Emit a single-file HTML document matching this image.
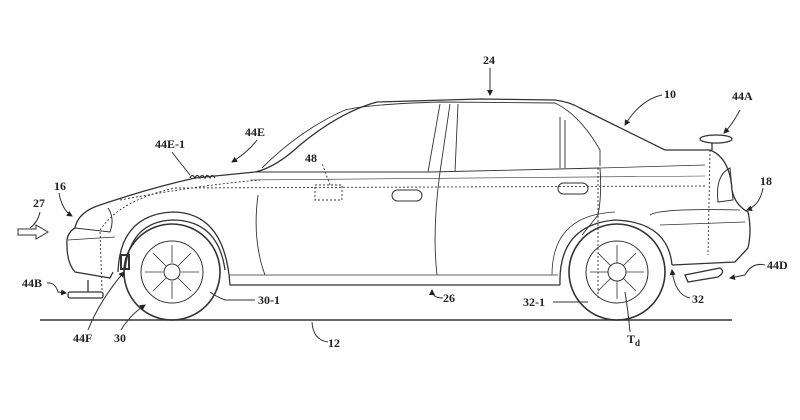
<!DOCTYPE html>
<html><head><meta charset="utf-8"><style>
html,body{margin:0;padding:0;background:#fff;}
svg{display:block}
text{font-family:"Liberation Serif",serif;font-weight:bold;font-size:12px;fill:#222}
</style></head><body>
<svg width="800" height="420" viewBox="0 0 800 420" xmlns="http://www.w3.org/2000/svg">
<defs><marker id="a" markerWidth="6" markerHeight="6" refX="5" refY="3" orient="auto"><path d="M0,0 L6,3 L0,6 z" fill="#222"/></marker></defs>
<g fill="none" stroke="#333" stroke-width="1.3">
<!-- ground -->
<line x1="40" y1="320" x2="732" y2="320" stroke-width="1.5"/>
<!-- main outline -->
<path d="M113,272 L110,278 L75,272 Q66,262 67,240 Q68,232 75,228 Q78,212 100,205 Q150,188 195,178 L255,172 Q275,168 300,145 Q340,112 377,102 L480,99 L555,100 Q570,102 580,108 L665,150 L710,150 Q730,158 732,190 Q735,205 748,212 Q752,230 748,248 L735,262 L672,265"/>
<!-- front wheel arch -->
<path d="M118,272 Q120,215 172,212 Q225,212 230,285 L560,285"/>
<path d="M125,270 Q130,222 172,220 Q218,220 225,270"/>
<!-- rear arch -->
<path d="M560,285 Q558,225 615,220 Q668,222 672,265"/>
<path d="M552,275 Q552,215 615,212" stroke-width="0.8"/>
<line x1="230" y1="275" x2="558" y2="275" stroke-width="0.8"/>
<!-- windshield inner, windows -->
<path d="M262,168 Q300,130 345,110 Q370,104 440,102 L555,103 Q580,115 600,150 L600,166" stroke-width="0.9"/>
<path d="M255,172 L430,172 L600,168" stroke-width="0.9"/>
<path d="M600,168 L705,165" stroke-width="0.8"/>
<line x1="440" y1="104" x2="428" y2="172" stroke-width="0.9"/>
<line x1="450" y1="104" x2="440" y2="172" stroke-width="0.9"/>
<line x1="458" y1="104" x2="455" y2="172" stroke-width="0.9"/>
<line x1="560" y1="117" x2="560" y2="168" stroke-width="0.9"/>
<line x1="565" y1="120" x2="565" y2="168" stroke-width="0.9"/>
<!-- door lines -->
<path d="M258,195 Q252,240 265,275" stroke-width="0.9"/>
<path d="M440,172 Q432,230 437,275" stroke-width="0.9"/>
<path d="M600,168 Q602,195 598,215 Q590,225 582,235" stroke-width="0.9"/>
<path d="M250,180 L705,176" stroke-width="0.6"/>
<!-- handles -->
<rect x="392" y="190" width="30" height="11" rx="5.5" stroke-width="1"/>
<rect x="558" y="183" width="30" height="11" rx="5.5" stroke-width="1"/>
<!-- headlight / front -->
<path d="M75,228 L110,232 Q115,218 108,208" stroke-width="1"/>
<path d="M68,240 L115,237" stroke-width="0.8"/>
<!-- tail light -->
<path d="M718,202 Q715,175 730,168 L733,200 z" stroke-width="1"/>
<path d="M650,215 Q660,208 740,210" stroke-width="0.8"/>
<path d="M660,225 L745,222" stroke-width="0.7"/>
<!-- dotted lines -->
<g stroke-dasharray="2,2" stroke-width="0.9">
<path d="M100,230 Q120,200 175,188 L705,186"/>
<path d="M100,232 L102,290"/>
<path d="M120,200 Q200,185 260,180"/>
<rect x="315" y="185" width="27" height="15"/>
<path d="M330,185 L322,163"/>
<line x1="598" y1="168" x2="598" y2="300"/>
<line x1="710" y1="150" x2="708" y2="255"/>
</g>
<!-- wheels -->
<circle cx="172" cy="272" r="48" stroke-width="1.6"/>
<circle cx="172" cy="272" r="31" stroke-width="1"/>
<circle cx="172" cy="272" r="8" stroke-width="1"/>
<circle cx="617" cy="272" r="48" stroke-width="1.6"/>
<circle cx="617" cy="272" r="31" stroke-width="1"/>
<circle cx="617" cy="272" r="9" stroke-width="1"/>
<g stroke-width="0.8">
<path d="M172,245 v18 M172,281 v18 M145,272 h18 M181,272 h18 M153,253 l13,13 M178,278 l13,13 M191,253 l-13,13 M166,278 l-13,13"/>
<path d="M617,245 v18 M617,281 v18 M590,272 h18 M626,272 h18 M598,253 l13,13 M623,278 l13,13 M636,253 l-13,13 M611,278 l-13,13"/>
</g>
<!-- 44F vent -->
<rect x="121" y="255" width="8" height="14" stroke-width="2"/>
<!-- 44B -->
<rect x="68" y="292" width="35" height="6" rx="2"/>
<line x1="88" y1="280" x2="88" y2="292"/>
<!-- 44E-1 vanes -->
<path d="M190,178 q2,-5 5,0 q2,-5 5,0 q2,-5 5,0 q2,-5 5,0 q2,-5 5,0" stroke-width="1.2"/>
<!-- spoiler 44A -->
<ellipse cx="716" cy="139" rx="16" ry="4"/>
<line x1="712" y1="143" x2="712" y2="150"/>
<!-- 44D -->
<path d="M685,275 L720,268 Q726,272 718,277 L688,282 z"/>
<!-- 27 arrow -->
<path d="M18,229 h18 v-4 l12,7 l-12,7 v-4 h-18 z" stroke-width="1"/>
<!-- leaders -->
<g stroke-width="1">
<path d="M490,68 L490,95" marker-end="url(#a)"/>
<path d="M662,95 Q640,100 625,125" marker-end="url(#a)"/>
<path d="M740,110 Q732,125 724,133" marker-end="url(#a)"/>
<path d="M763,188 Q760,205 747,210" marker-end="url(#a)"/>
<path d="M765,265 Q752,262 745,275 L730,278" marker-end="url(#a)"/>
<path d="M690,298 Q675,295 672,270" marker-end="url(#a)"/>
<path d="M553,302 L588,302"/>
<path d="M630,332 Q628,310 625,292"/>
<path d="M443,298 Q432,298 432,290" marker-end="url(#a)"/>
<path d="M328,342 Q313,340 312,322"/>
<path d="M255,300 L225,300 Q215,296 210,292"/>
<path d="M121,330 Q130,315 145,305" marker-end="url(#a)"/>
<path d="M88,330 Q100,300 124,272" marker-end="url(#a)"/>
<path d="M47,283 Q55,282 58,292 L66,293" marker-end="url(#a)"/>
<path d="M40,212 Q38,222 30,228"/>
<path d="M59,193 Q62,210 72,216" marker-end="url(#a)"/>
<path d="M172,152 Q178,160 190,175"/>
<path d="M257,140 Q248,152 232,162" marker-end="url(#a)"/>
</g>
</g>
<text x="483" y="64">24</text>
<text x="664" y="98">10</text>
<text x="732" y="100">44A</text>
<text x="760" y="185">18</text>
<text x="767" y="269">44D</text>
<text x="692" y="303">32</text>
<text x="523" y="306">32-1</text>
<text x="627" y="343">T<tspan font-size="9" dy="3">d</tspan></text>
<text x="443" y="302">26</text>
<text x="328" y="347">12</text>
<text x="114" y="342">30</text>
<text x="73" y="342">44F</text>
<text x="258" y="304">30-1</text>
<text x="22" y="287">44B</text>
<text x="33" y="207">27</text>
<text x="54" y="190">16</text>
<text x="155" y="148">44E-1</text>
<text x="245" y="136">44E</text>
<text x="305" y="162">48</text>
</svg>
</body></html>
